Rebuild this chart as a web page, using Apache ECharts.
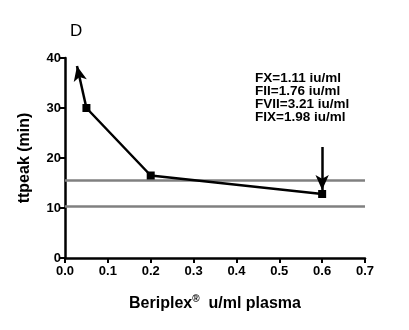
<!DOCTYPE html>
<html>
<head>
<meta charset="utf-8">
<script src="https://cdn.jsdelivr.net/npm/echarts@6/dist/echarts.min.js"></script>
<style>
  html, body { margin: 0; padding: 0; background: #fff; }
  #chart { width: 409px; height: 330px; }
</style>
</head>
<body>
<div id="chart"></div>
<script>
// 数据
var doses = [0.05, 0.2, 0.6];
var ttpeak = [30, 16.5, 12.8];
// 参考范围（灰线）
var refLines = [15.6, 10.4];
// 箭头：起点和终点
var upArrow = [[0.05, 30], [0.028, 38.4]];
var doseArrow = [[0.6, 22.2], [0.6, 13.6]];
var noteLines = ['FX=1.11 iu/ml', 'FII=1.76 iu/ml', 'FVII=3.21 iu/ml', 'FIX=1.98 iu/ml'];
var xTicks = [0, 0.7, 0.1];
var yTicks = [0, 40, 10];

var myChart = echarts.init(document.getElementById('chart'));
var font = 'Liberation Sans, Arial, sans-serif';

var option = {
  animation: false,
  textStyle: { fontFamily: font },
  grid: { left: 65, right: 44, top: 58, bottom: 72 },
  graphic: [
    {
      type: 'text', left: 70, top: 23,
      style: { text: 'D', font: '17px ' + font, fill: '#000' }
    },
    {
      type: 'text', left: 255, top: 71,
      style: { text: noteLines.join('\n'), font: 'bold 13.5px ' + font, lineHeight: 13, fill: '#000' }
    }
  ],
  xAxis: {
    type: 'value',
    min: xTicks[0], max: xTicks[1], interval: xTicks[2],
    name: '{b|Beriplex}{s|®}{b|  u/ml plasma}',
    nameLocation: 'middle',
    nameGap: 36,
    nameTextStyle: {
      rich: {
        b: { fontFamily: font, fontWeight: 'bold', fontSize: 16, color: '#000' },
        s: { fontFamily: font, fontWeight: 'bold', fontSize: 10, color: '#000', padding: [0, 0, 9, 0] }
      }
    },
    axisLine: { lineStyle: { color: '#000', width: 2.5 } },
    axisTick: { show: true, length: 5, lineStyle: { color: '#000', width: 2 } },
    axisLabel: {
      color: '#000', fontWeight: 'bold', fontSize: 13, margin: 7,
      formatter: function (v) { return v.toFixed(1); }
    },
    splitLine: { show: false }
  },
  yAxis: {
    type: 'value',
    min: yTicks[0], max: yTicks[1], interval: yTicks[2],
    name: 'ttpeak (min)',
    nameLocation: 'middle',
    nameGap: 32,
    nameTextStyle: { color: '#000', fontWeight: 'bold', fontSize: 16 },
    axisLine: { show: true, lineStyle: { color: '#000', width: 2.5 } },
    axisTick: { show: true, length: 5, lineStyle: { color: '#000', width: 2 } },
    axisLabel: { color: '#000', fontWeight: 'bold', fontSize: 13, margin: 4 },
    splitLine: { show: false }
  },
  series: [
    {
      type: 'line',
      data: doses.map(function (d, i) { return [d, ttpeak[i]]; }),
      symbol: 'rect',
      symbolSize: 8,
      lineStyle: { color: '#000', width: 2.5 },
      itemStyle: { color: '#000' },
      z: 5,
      markLine: {
        silent: true,
        symbol: ['none', 'none'],
        label: { show: false },
        lineStyle: { color: '#808080', width: 2.5, type: 'solid' },
        data: refLines.map(function (v) { return { yAxis: v }; })
      }
    },
    {
      type: 'line',
      data: [],
      markLine: {
        silent: true,
        symbol: ['none', 'arrow'],
        symbolSize: [10, 15],
        label: { show: false },
        lineStyle: { color: '#000', width: 2.5, type: 'solid' },
        data: [
          [{ coord: upArrow[0] }, { coord: upArrow[1] }],
          [{ coord: doseArrow[0] }, { coord: doseArrow[1] }]
        ]
      }
    }
  ]
};
myChart.setOption(option);
window.addEventListener('resize', function () {
  myChart.resize();
});
</script>
</body>
</html>
